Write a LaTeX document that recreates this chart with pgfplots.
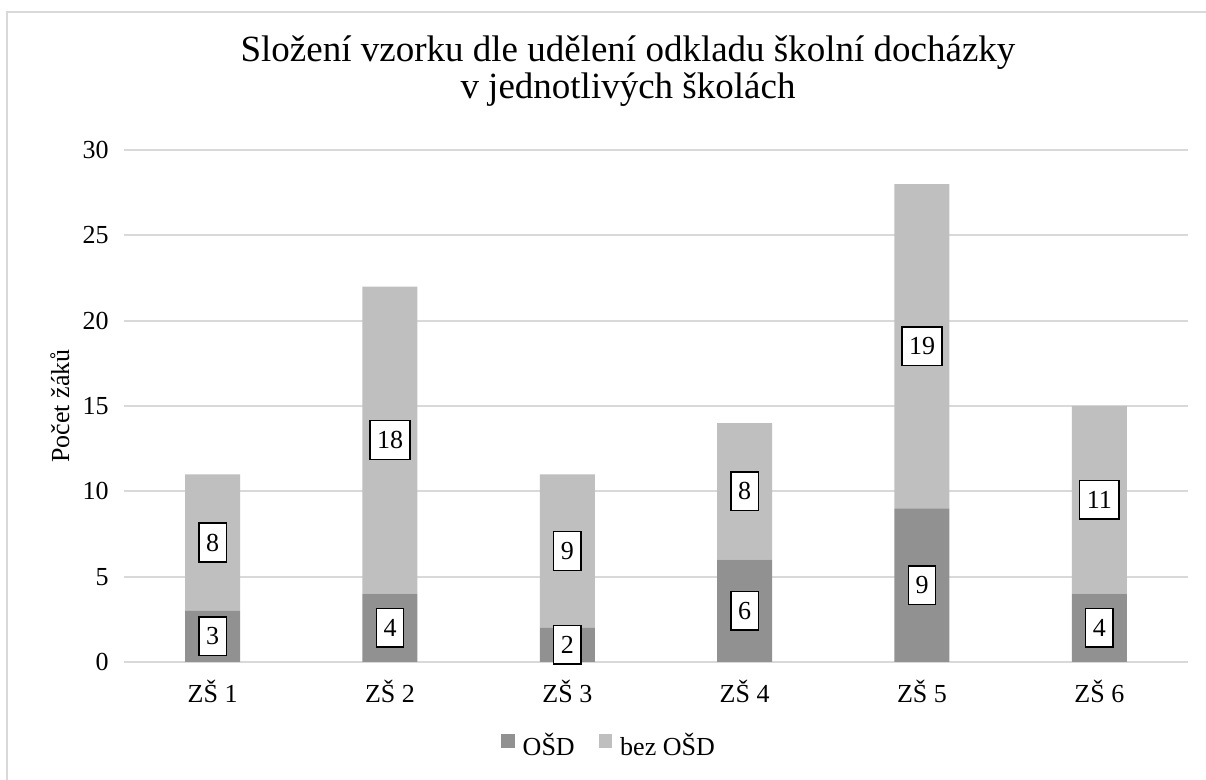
\documentclass[border=0pt]{standalone}
\usepackage{fontspec}
\setmainfont{Liberation Serif}
\usepackage{pgfplots}
\pgfplotsset{compat=1.18}
\definecolor{darkbar}{HTML}{919191}
\definecolor{lightbar}{HTML}{BFBFBF}
\definecolor{gridc}{HTML}{D9D9D9}
\newcommand\fs{\fontsize{13}{15.5}\selectfont}
\begin{document}
\begin{tikzpicture}
\useasboundingbox (0,0) rectangle (603pt,390pt);
\fill[white] (0,0) rectangle (603pt,390pt);
\draw[gridc, line width=1pt] (3.5pt,0) -- (3.5pt,384pt) -- (603pt,384pt);
\begin{axis}[
  at={(62pt,59pt)}, anchor=south west, scale only axis,
  width=532pt, height=256pt,
  ybar stacked, bar width=27.5pt,
  xmin=-0.5, xmax=5.5, ymin=0, ymax=30,
  xtick={0,1,2,3,4,5},
  xticklabels={ZŠ 1,ZŠ 2,ZŠ 3,ZŠ 4,ZŠ 5,ZŠ 6},
  ytick={0,5,10,15,20,25,30},
  ymajorgrids, grid style={gridc, line width=1pt},
  axis line style={draw=none},
  major tick length=0pt,
  tick label style={font=\fs},
  /pgf/number format/assume math mode=true,
  xticklabel style={anchor=base, inner sep=0pt, yshift=-20.5pt},
  yticklabel style={anchor=east, inner sep=0pt, xshift=-7.5pt},
  ylabel={Počet žáků},
  ylabel style={font=\fs, at={(axis description cs:-0.0602,0.5)}, anchor=center},
  title={Složení vzorku dle udělení odkladu školní docházky\\v jednotlivých školách},
  title style={font=\fontsize{18.5}{18.5}\selectfont, align=center,
    at={(axis description cs:0.4737,1.0605)}, anchor=south, inner sep=0pt},
  legend columns=2,
  legend style={at={(axis description cs:0.4568,-0.164)}, anchor=center,
    draw=none, fill=none, font=\fs,
    /tikz/every even column/.append style={column sep=10pt}},
  clip=false,
]
\addplot[fill=darkbar, draw=none,
  legend image code/.code={\fill[darkbar] (0pt,-1pt) rectangle (6.75pt,5.75pt); \path (8.75pt,0pt);}]
  coordinates {(0,3) (1,4) (2,2) (3,6) (4,9) (5,4)};
\addplot[fill=lightbar, draw=none,
  legend image code/.code={\fill[lightbar] (0pt,-1pt) rectangle (6.75pt,5.75pt); \path (8.75pt,0pt);}]
  coordinates {(0,8) (1,18) (2,9) (3,8) (4,19) (5,11)};
\legend{OŠD, bez OŠD}
\end{axis}
\begin{axis}[
  at={(62pt,59pt)}, anchor=south west, scale only axis,
  width=532pt, height=256pt,
  xmin=-0.5, xmax=5.5, ymin=0, ymax=30,
  hide axis, clip=false,
]
\addplot[only marks, mark=none, nodes near coords, point meta=explicit symbolic,
  nodes near coords style={anchor=center, draw=black, fill=white, line width=0.75pt,
    font=\fs, inner xsep=3.6pt, inner ysep=5.3pt}]
  coordinates {(0,1.5)[3] (1,2)[4] (2,1)[2] (3,3)[6] (4,4.5)[9] (5,2)[4]
               (0,7)[8] (1,13)[18] (2,6.5)[9] (3,10)[8] (4,18.5)[19] (5,9.5)[11]};
\end{axis}
\end{tikzpicture}
\end{document}
